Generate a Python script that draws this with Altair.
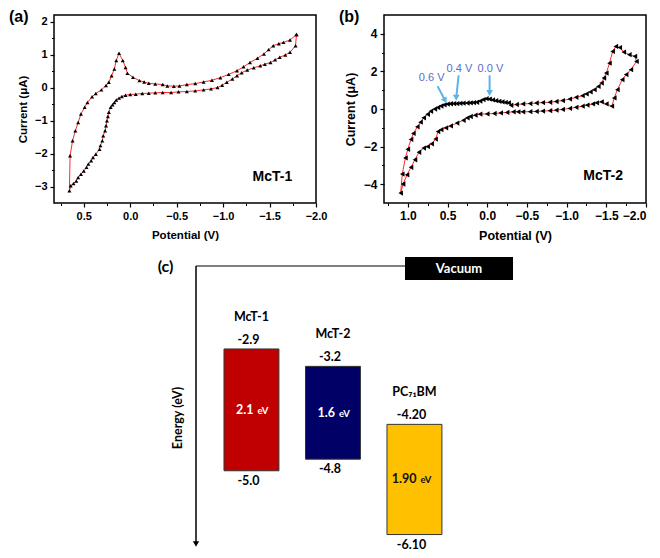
import altair as alt
import pandas as pd

# ---------------- Panel (a): CV of McT-1 (potential V, current uA), scan order
a_lower_pot = [-1.79, -1.78, -1.72, -1.67, -1.61, -1.56, -1.51, -1.45, -1.40, -1.33, -1.26, -1.20,
               -1.15, -1.10, -1.04, -0.99, -0.94, -0.87, -0.79, -0.70, -0.61, -0.52, -0.44, -0.35,
               -0.27, -0.20, -0.13, -0.06, 0.00, 0.05, 0.09, 0.12, 0.15, 0.17, 0.19, 0.21, 0.23,
               0.24, 0.25, 0.26, 0.27, 0.29, 0.30, 0.32, 0.33, 0.37, 0.40, 0.42, 0.45, 0.47, 0.50,
               0.53, 0.56, 0.58, 0.61, 0.64, 0.654]
a_lower_cur = [1.61, 1.27, 1.07, 0.99, 0.92, 0.84, 0.76, 0.71, 0.66, 0.60, 0.53, 0.45,
               0.36, 0.26, 0.16, 0.07, 0.00, -0.04, -0.07, -0.10, -0.12, -0.13, -0.15, -0.15,
               -0.16, -0.17, -0.18, -0.20, -0.21, -0.23, -0.27, -0.32, -0.38, -0.45, -0.52, -0.60, -0.75,
               -0.88, -1.01, -1.16, -1.31, -1.46, -1.61, -1.76, -1.87, -2.02, -2.12, -2.22, -2.32, -2.42, -2.53,
               -2.63, -2.73, -2.83, -2.91, -2.98, -3.13]
a_upper_pot = [0.647, 0.62, 0.59, 0.56, 0.53, 0.49, 0.46, 0.41, 0.37, 0.31, 0.26, 0.23, 0.20, 0.17,
               0.15, 0.12, 0.08, 0.05, 0.03, -0.03, -0.10, -0.15, -0.20, -0.27, -0.35, -0.40, -0.47,
               -0.53, -0.61, -0.70, -0.79, -0.88, -0.97, -1.06, -1.15, -1.22, -1.29, -1.37, -1.44,
               -1.49, -1.54, -1.60, -1.65, -1.72, -1.79]
a_upper_cur = [-2.07, -1.61, -1.31, -1.06, -0.80, -0.60, -0.45, -0.28, -0.18, -0.07, 0.06, 0.16, 0.36, 0.56,
               0.82, 1.04, 0.82, 0.61, 0.43, 0.31, 0.21, 0.17, 0.13, 0.11, 0.09, 0.05, 0.04,
               0.05, 0.09, 0.12, 0.17, 0.22, 0.30, 0.40, 0.51, 0.63, 0.76, 0.89, 1.02,
               1.15, 1.27, 1.33, 1.37, 1.44, 1.61]

# ---------------- Panel (b): CV of McT-2
b_fwd_pot = [-0.30, -0.37, -0.45, -0.54, -0.62, -0.70, -0.79, -0.87, -0.95, -1.04, -1.12, -1.20,
             -1.25, -1.30, -1.35, -1.40, -1.44, -1.47, -1.50, -1.54, -1.58, -1.62, -1.67, -1.72,
             -1.79, -1.86, -1.88, -1.81, -1.75, -1.70, -1.64, -1.60, -1.57]
b_fwd_cur = [0.20, 0.24, 0.27, 0.29, 0.32, 0.34, 0.36, 0.40, 0.45, 0.53, 0.62, 0.71,
             0.80, 0.91, 1.03, 1.20, 1.38, 1.65, 1.91, 2.44, 3.06, 3.33, 3.27, 3.03,
             2.89, 2.80, 2.53, 2.09, 1.83, 1.56, 1.03, 0.59, 0.15]
b_lower_pot = [-1.50, -1.44, -1.38, -1.33, -1.26, -1.20, -1.12, -1.04, -0.95, -0.87, -0.79, -0.70,
               -0.62, -0.54, -0.45, -0.39, -0.33, -0.25, -0.17, -0.09, 0.00, 0.09, 0.15, 0.21, 0.25,
               0.30, 0.38, 0.46, 0.52, 0.58, 0.62, 0.65, 0.70, 0.75, 0.80, 0.86, 0.91, 0.96, 1.01,
               1.06, 1.09]
b_lower_cur = [0.27, 0.38, 0.33, 0.27, 0.21, 0.15, 0.09, 0.03, -0.02, -0.06, -0.09, -0.11,
               -0.13, -0.14, -0.15, -0.15, -0.15, -0.18, -0.21, -0.24, -0.26, -0.27, -0.33, -0.40, -0.47,
               -0.60, -0.75, -0.90, -1.00, -1.10, -1.20, -1.60, -1.85, -2.00, -2.08, -2.30, -2.70, -3.10, -3.50,
               -3.99, -4.47]
b_outer_pot = [1.07, 1.03, 1.00, 0.96, 0.93, 0.88, 0.84, 0.80, 0.75, 0.71, 0.66, 0.62, 0.58, 0.54,
               0.50, 0.46, 0.42, 0.38, 0.34, 0.30, 0.25, 0.21, 0.17, 0.13, 0.09, 0.05, 0.01, -0.03,
               -0.07, -0.11, -0.15, -0.19, -0.23, -0.27]
b_outer_cur = [-3.46, -2.60, -2.14, -1.62, -1.30, -0.95, -0.70, -0.47, -0.28, -0.12, 0.00, 0.08, 0.16, 0.22,
               0.26, 0.28, 0.29, 0.29, 0.30, 0.31, 0.32, 0.33, 0.34, 0.36, 0.42, 0.50, 0.55, 0.53,
               0.48, 0.44, 0.41, 0.38, 0.35, 0.33]

# Peak annotations in (b)
ann_text = ["0.6 V", "0.4 V", "0.0 V"]
ann_label_pot = [0.70, 0.35, -0.04]
ann_label_cur = [1.63, 2.11, 2.11]
ann_tail_pot = [0.625, 0.36, -0.03]
ann_tail_cur = [1.21, 1.79, 1.79]
ann_head_pot = [0.53, 0.39, -0.03]
ann_head_cur = [0.45, 0.60, 0.85]

# Axis ticks
a_x_major = [0.5, 0.0, -0.5, -1.0, -1.5, -2.0]
a_x_minor = [0.75, 0.25, -0.25, -0.75, -1.25, -1.75]
a_y_major = [-3, -2, -1, 0, 1, 2]
a_y_minor = [-2.5, -1.5, -0.5, 0.5, 1.5]
b_x_major = [1.0, 0.5, 0.0, -0.5, -1.0, -1.5, -2.0]
b_x_minor = [1.25, 0.75, 0.25, -0.25, -0.75, -1.25, -1.75]
b_y_major = [-4, -2, 0, 2, 4]
b_y_minor = [-3, -1, 1, 3]

# ---------------- Panel (c): energy levels (eV)
materials = ["McT-1", "McT-2", "PC₇₁BM"]
lumo = [-2.9, -3.2, -4.20]
homo = [-5.0, -4.8, -6.10]
lumo_txt = ["-2.9", "-3.2", "-4.20"]
homo_txt = ["-5.0", "-4.8", "-6.10"]
gap_txt = ["2.1", "1.6", "1.90"]
bar_colors = ["#c00000", "#000066", "#ffc000"]
gap_colors = ["white", "white", "#111111"]

FONT = "Liberation Sans"
CFONT = "Lato"
BAR_HALF = 0.337   # half bar width in slot units


def build(branches):
    rows = []
    k = 0
    for name, pots, curs in branches:
        for p, c in zip(pots, curs):
            rows.append({"pot": p, "cur": c, "ord": k, "br": name})
            k += 1
    return pd.DataFrame(rows)


df_a = build([("lower", a_lower_pot, a_lower_cur), ("upper", a_upper_pot, a_upper_cur)])
df_b = build([("fwd", b_fwd_pot, b_fwd_cur), ("lower", b_lower_pot, b_lower_cur),
              ("outer", b_outer_pot, b_outer_cur)])


def axis(values, fmt, title, size, tpad, orient, flush=False):
    return alt.Axis(values=values, format=fmt, title=title, labelFontSize=size, titleFontSize=size + 0.5,
                    titlePadding=tpad, tickSize=4, tickWidth=1.2, labelPadding=3, labelFlush=flush,
                    orient=orient)


def minor_axis(values, orient):
    return alt.Axis(values=values, labels=False, title="", tickSize=2.5, tickWidth=1, orient=orient)


def word(text, x, y, size, color="black", weight="bold", font=FONT, align="left", baseline="top", angle=0):
    return alt.Chart(pd.DataFrame({"t": [text]})).mark_text(
        font=font, fontSize=size, fontWeight=weight, color=color, align=align, baseline=baseline, angle=angle
    ).encode(text="t:N", x=alt.value(x), y=alt.value(y))


# ---- (a)
sxa = alt.Scale(domain=[0.82, -2.0], nice=False, zero=False)
sya = alt.Scale(domain=[-3.5, 2.2], nice=False, zero=False)
xa = alt.X("pot:Q", scale=sxa, axis=axis(a_x_major, ".1f", "Potential (V)", 11, 8, "bottom"))
ya = alt.Y("cur:Q", scale=sya, axis=axis(a_y_major, "d", "Current (μA)", 11, 6, "left"))
base_a = alt.Chart(df_a)
line_a = base_a.mark_line(color="#ff2a2a", strokeWidth=1).encode(x=xa, y=ya, order="ord:Q")
pts_a = base_a.mark_point(shape="triangle-up", filled=True, color="black", size=16, opacity=1).encode(x=xa, y=ya)
lab_a = alt.Chart(pd.DataFrame({"t": ["McT-1"], "pot": [-1.53], "cur": [-2.71]})).mark_text(
    font=FONT, fontSize=14, fontWeight="bold", color="black").encode(x=xa, y=ya, text="t:N")
minor_a = base_a.mark_point(opacity=0).encode(
    x=alt.X("pot:Q", scale=sxa, axis=minor_axis(a_x_minor, "bottom")),
    y=alt.Y("cur:Q", scale=sya, axis=minor_axis(a_y_minor, "left")))
panel_a = alt.layer(
    alt.layer(line_a, pts_a, lab_a, word("(a)", -45, -6, 16)), minor_a
).resolve_axis(x="independent", y="independent").properties(width=262, height=188)

# ---- (b)
sxb = alt.Scale(domain=[1.3, -2.0], nice=False, zero=False)
syb = alt.Scale(domain=[-5, 5], nice=False, zero=False)
xb = alt.X("pot:Q", scale=sxb, axis=axis(b_x_major, ".1f", "Potential (V)", 12, 8, "bottom", flush=True))
yb = alt.Y("cur:Q", scale=syb, axis=axis(b_y_major, "d", "Current (μA)", 12, 6, "left"))
base_b = alt.Chart(df_b)
line_b = base_b.mark_line(color="#ff2a2a", strokeWidth=1).encode(x=xb, y=yb, order="ord:Q")
blue_b = base_b.transform_filter(
    "datum.br == 'outer' && datum.pot <= 0.62 && datum.pot >= -0.05"
).mark_line(color="#2233cc", strokeWidth=1.2).encode(x=xb, y=yb, order="ord:Q")
pts_b = base_b.mark_point(shape="triangle-left", filled=True, color="black", size=28, opacity=1).encode(x=xb, y=yb)
ann = pd.DataFrame({"t": ann_text, "lp": ann_label_pot, "lc": ann_label_cur, "tp": ann_tail_pot,
                    "tc": ann_tail_cur, "hp": ann_head_pot, "hc": ann_head_cur})
arr_lines = alt.Chart(ann).mark_rule(color="#5db4e6", strokeWidth=2).encode(
    x=alt.X("tp:Q", scale=sxb), y=alt.Y("tc:Q", scale=syb), x2="hp:Q", y2="hc:Q")
heads = []
for i, ang in enumerate([152, 180, 180]):
    heads.append(alt.Chart(ann.iloc[[i]]).mark_point(shape="triangle-up", filled=True, color="#5db4e6",
                                                     size=45, opacity=1, angle=ang).encode(
        x=alt.X("hp:Q"), y=alt.Y("hc:Q")))
ann_lab = alt.Chart(ann).mark_text(font=FONT, fontSize=11, color="#5a6cc4").encode(
    x=alt.X("lp:Q"), y=alt.Y("lc:Q"), text="t:N")
lab_b = alt.Chart(pd.DataFrame({"t": ["McT-2"], "pot": [-1.46], "cur": [-3.56]})).mark_text(
    font=FONT, fontSize=14, fontWeight="bold", color="black").encode(x=xb, y=yb, text="t:N")
minor_b = base_b.mark_point(opacity=0).encode(
    x=alt.X("pot:Q", scale=sxb, axis=minor_axis(b_x_minor, "bottom")),
    y=alt.Y("cur:Q", scale=syb, axis=minor_axis(b_y_minor, "left")))
panel_b = alt.layer(
    alt.layer(line_b, blue_b, pts_b, arr_lines, *heads, ann_lab, lab_b, word("(b)", -45, -6, 16)), minor_b
).resolve_axis(x="independent", y="independent").properties(width=262, height=188)

# ---- (c)  (plot area spans the first column; marks extend to the right)
dfc = pd.DataFrame({"mat": materials, "lumo": lumo, "homo": homo, "lt": lumo_txt, "ht": homo_txt,
                    "gt": gap_txt})
dfc["slot"] = list(range(len(materials)))
dfc["mid"] = (dfc["lumo"] + dfc["homo"]) / 2
dfc["x0"] = dfc["slot"] - BAR_HALF
dfc["x1"] = dfc["slot"] + BAR_HALF
xsc = alt.Scale(domain=[-2.423, 0.792], nice=False, zero=False)
ysc = alt.Scale(domain=[-6.125, -1.297], nice=False, zero=False)
xc = alt.X("slot:Q", scale=xsc, axis=None)
basec = alt.Chart(dfc)
bars = basec.mark_rect(stroke="#333333", strokeWidth=1).encode(
    x=alt.X("x0:Q", scale=xsc, axis=None), x2="x1:Q", y=alt.Y("lumo:Q", scale=ysc, axis=None), y2="homo:Q",
    color=alt.Color("mat:N", scale=alt.Scale(domain=materials, range=bar_colors), legend=None))
tkw = dict(font=CFONT, fontWeight="bold", fontSize=12.5, color="black")
name_t = basec.mark_text(dy=-32, **tkw).encode(x=xc, y=alt.Y("lumo:Q", scale=ysc), text="mat:N")
lumo_t = basec.mark_text(dy=-9, dx=-3, **tkw).encode(x=xc, y=alt.Y("lumo:Q", scale=ysc), text="lt:N")
homo_t = basec.mark_text(dy=10, dx=-3, **tkw).encode(x=xc, y=alt.Y("homo:Q", scale=ysc), text="ht:N")
gap_n = basec.mark_text(font=CFONT, fontWeight="bold", fontSize=12.5, align="right", dx=2).encode(
    x=xc, y=alt.Y("mid:Q", scale=ysc), text="gt:N",
    color=alt.Color("mat:N", scale=alt.Scale(domain=materials, range=gap_colors), legend=None))
gap_u = basec.mark_text(font=CFONT, fontWeight="bold", fontSize=9.5, align="left", dx=6, dy=1).encode(
    x=xc, y=alt.Y("mid:Q", scale=ysc), text=alt.value("eV"),
    color=alt.Color("mat:N", scale=alt.Scale(domain=materials, range=gap_colors), legend=None))
vline = alt.Chart(pd.DataFrame({"k": [0]})).mark_rule(color="black", strokeWidth=1.5).encode(
    x=alt.value(142), y=alt.value(10), y2=alt.value(287))
ahead = alt.Chart(pd.DataFrame({"k": [0]})).mark_point(shape="triangle-down", filled=True, color="black",
                                                      size=40, opacity=1).encode(x=alt.value(142), y=alt.value(288))
hline = alt.Chart(pd.DataFrame({"k": [0]})).mark_rule(color="black", strokeWidth=1.2).encode(
    x=alt.value(142), x2=alt.value(351), y=alt.value(10))
vac = alt.Chart(pd.DataFrame({"k": [0]})).mark_rect(color="black").encode(
    x=alt.value(351), x2=alt.value(459), y=alt.value(1), y2=alt.value(24))
panel_c = alt.layer(
    bars, name_t, lumo_t, homo_t, gap_n, gap_u, vline, ahead, hline, vac,
    word("Vacuum", 405, 12.5, 13, color="white", font=CFONT, align="center", baseline="middle"),
    word("(c)", 111.5, 11, 16, font=CFONT, align="center", baseline="middle"),
    word("Energy (eV)", 124, 162, 12.5, font=CFONT, align="center", baseline="middle", angle=270),
).resolve_scale(color="independent").properties(width=262, height=280,
                                                view=alt.ViewBackground(stroke="transparent"))

chart = alt.concat(panel_a, panel_b, panel_c, columns=2, spacing={"row": 53, "column": 68},
                   bounds="flush").properties(
    padding={"left": 0, "top": 0, "right": 0, "bottom": 0}
).configure_view(stroke="black", strokeWidth=1.5).configure_axis(
    labelFont=FONT, titleFont=FONT, labelFontWeight="bold", titleFontWeight="bold", labelColor="black",
    titleColor="black", tickColor="black", domain=False, grid=False
)

chart.save("out.html", embed_options={"renderer": "svg", "actions": False})
